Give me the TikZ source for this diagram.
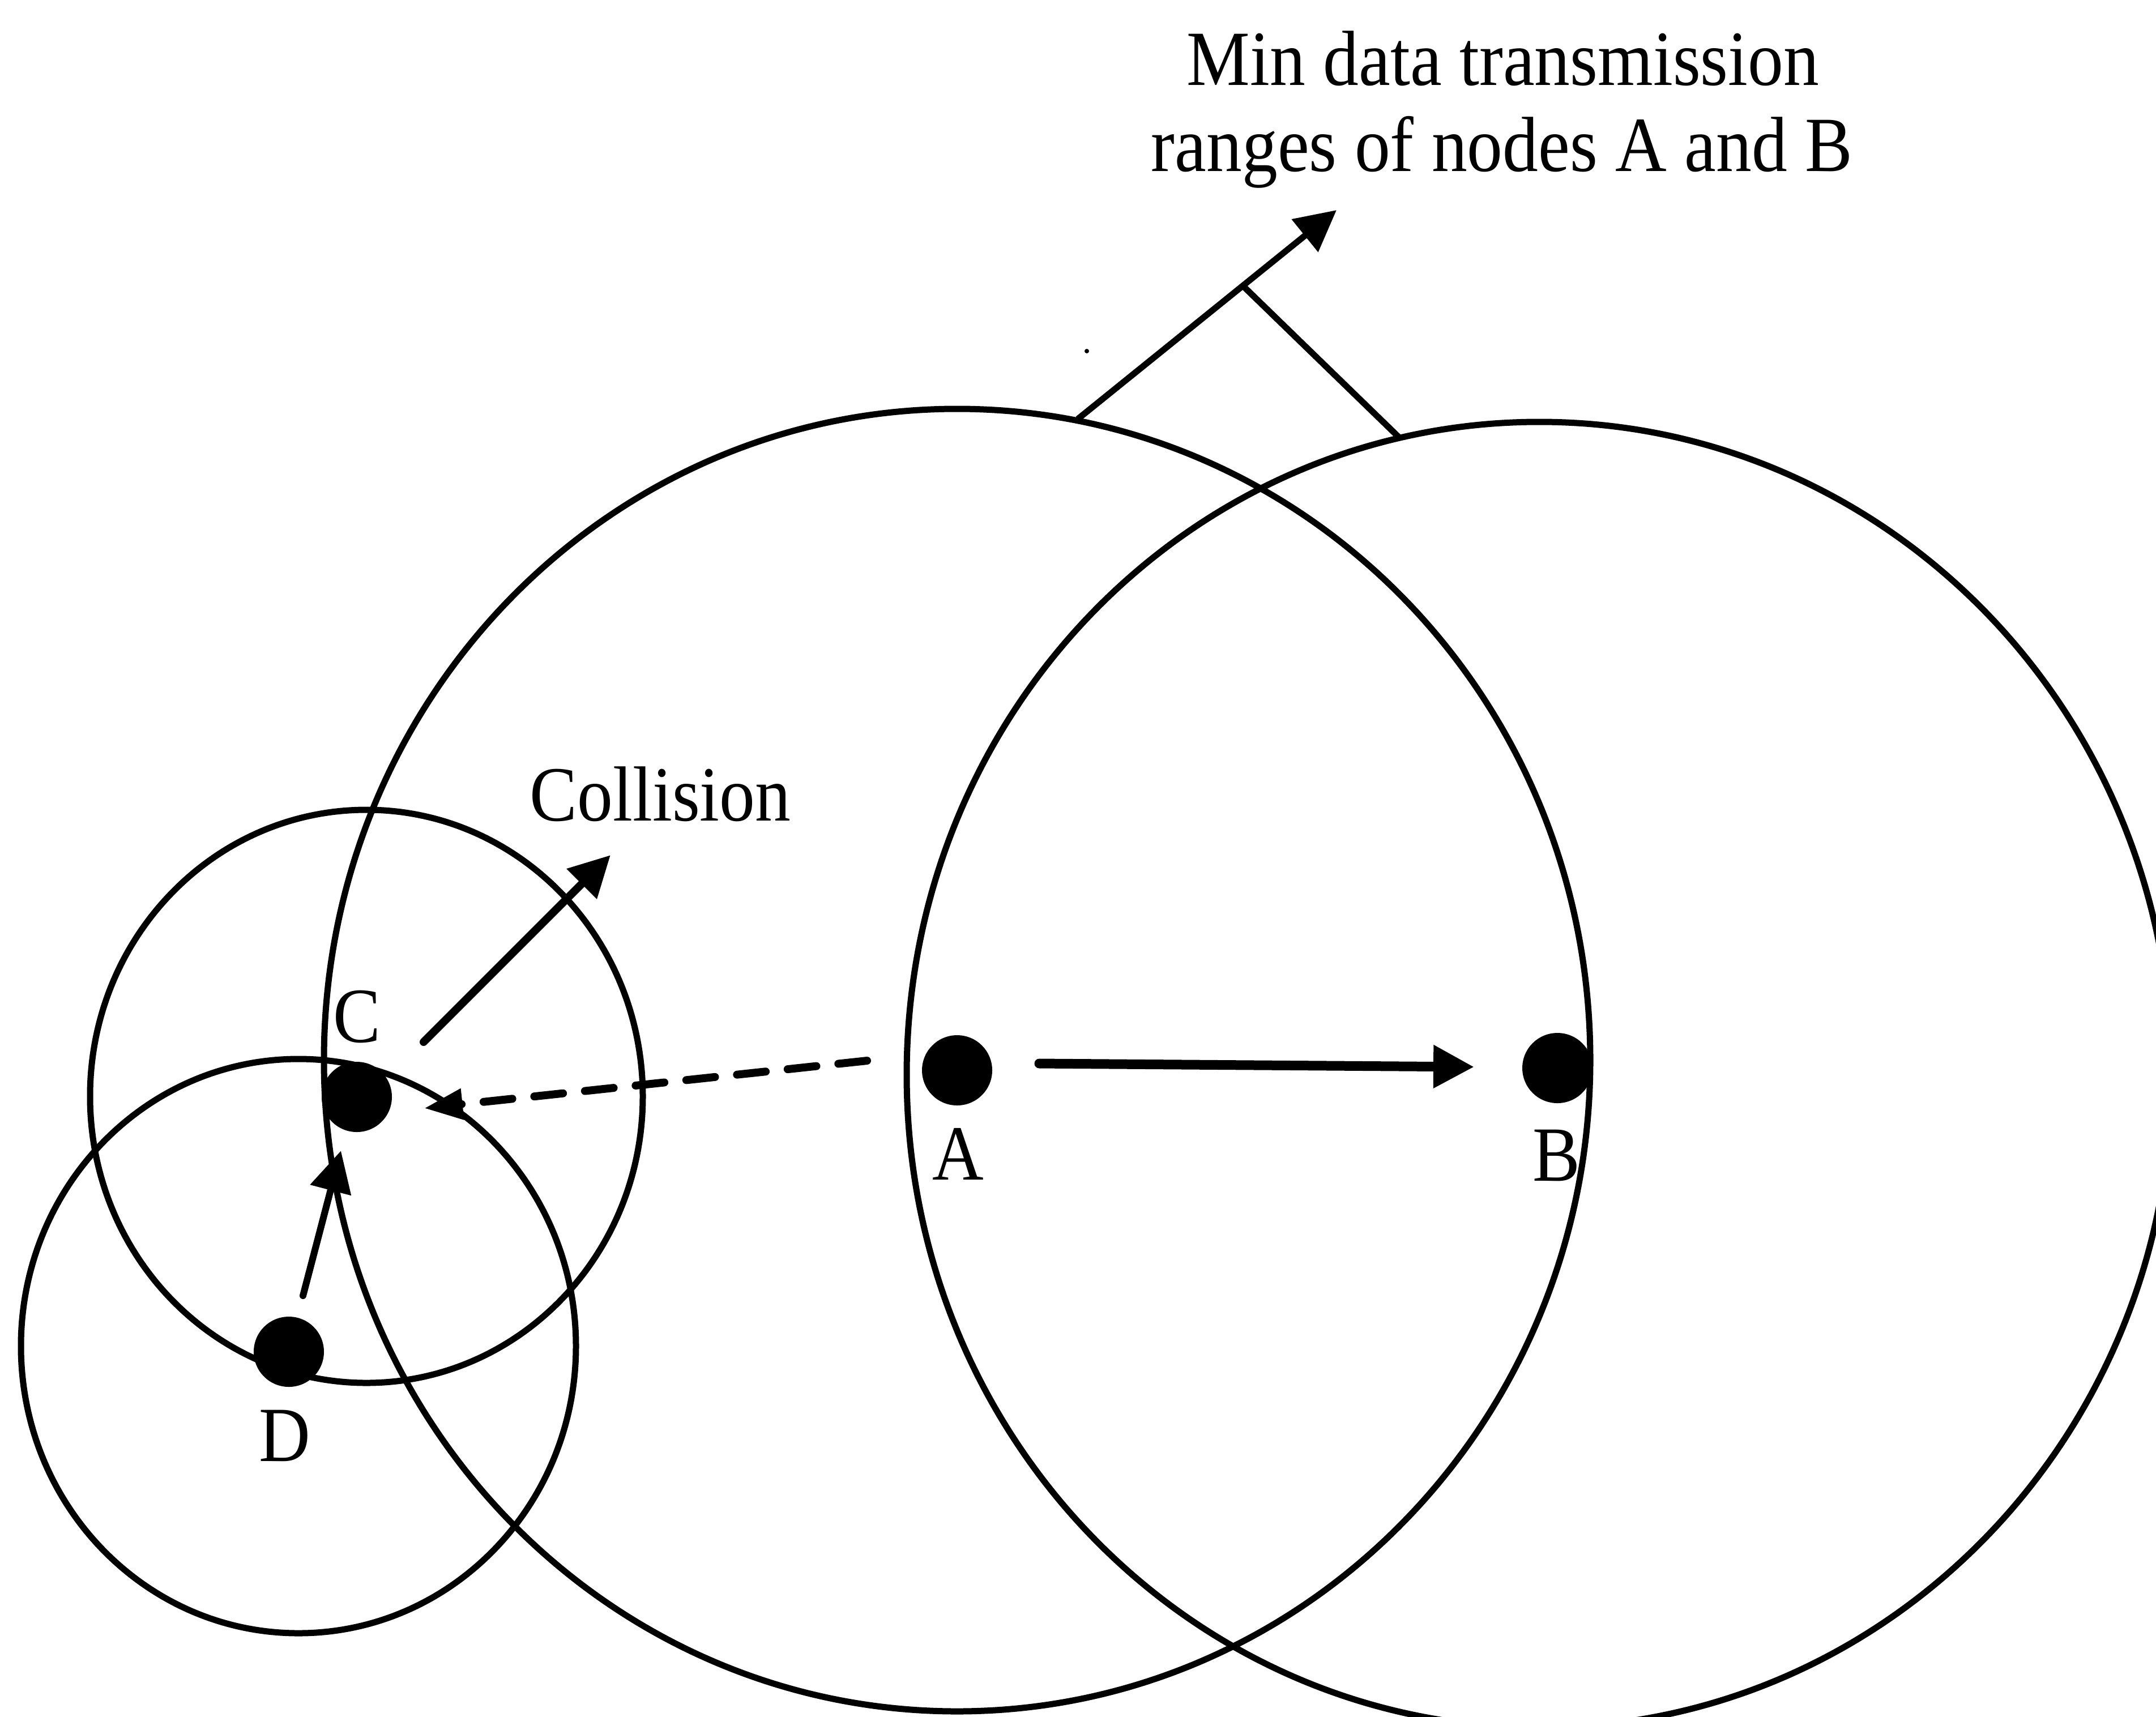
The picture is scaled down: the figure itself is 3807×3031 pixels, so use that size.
\documentclass[tikz,border=0pt]{standalone}
\usepackage{fontspec}
\setmainfont{Liberation Serif}
\usepackage{graphicx}
\usetikzlibrary{arrows.meta}
\newcommand{\condtxt}[1]{\scalebox{0.91}[1]{#1}}
\begin{document}
\begin{tikzpicture}[x=0.25pt,y=-0.25pt,
  ring/.style={line width=2.75pt},
  dot/.style={circle,fill=black,inner sep=0pt,minimum size=31pt},
  lbl/.style={anchor=base,inner sep=0pt,font=\fontsize{34.5}{40}\selectfont},
  bigtip/.style={-{Triangle[length=18pt,width=18pt]}},
  thinline/.style={line width=2.75pt},
  speck/.style={circle,fill=black,inner sep=0pt,minimum size=2pt}]
\useasboundingbox (0,0) rectangle (3807,3031);
\clip (0,0) rectangle (3807,3031);
\fill[white] (0,0) rectangle (3807,3031);

% transmission ranges
\draw[ring] (1690,1872) ellipse [x radius=1118, y radius=1150];
\draw[ring] (2718,1898) ellipse [x radius=1117, y radius=1153];
\draw[ring] (647,1936) ellipse [x radius=488, y radius=506];
\draw[ring] (527,2377) ellipse [x radius=490, y radius=507];

% stations
\node[dot] (dA) at (1690,1890) {};
\node[dot] (dB) at (2750,1886) {};
\node[dot] (dC) at (630,1937) {};
\node[dot] (dD) at (510,2387) {};

% labels
\node[lbl] (lA) at (1692,2083) {\condtxt{A}};
\node[lbl] (lB) at (2748,2085) {\condtxt{B}};
\node[lbl] (lC) at (630,1840) {\condtxt{C}};
\node[lbl] (lD) at (503,2580) {\condtxt{D}};
\node[lbl] (coll) at (1166,1449) {\condtxt{Collision}};
\node[lbl] (t1) at (2654,150) {\condtxt{Min data transmission}};
\node[lbl] (t2) at (2652,302) {\condtxt{ranges of nodes A and B}};

% stray speck
\node[speck] (sp) at (1919,620) {};

% connector end points
\coordinate (abS) at (1835,1878);
\coordinate (abE) at (2603,1884);
\coordinate (acS) at (1531,1873);
\coordinate (acE) at (749,1957);
\coordinate (dcS) at (535,2288);
\coordinate (dcE) at (602,2032);
\coordinate (clS) at (748,1840);
\coordinate (clE) at (1078,1510);
\coordinate (rgS) at (1903,740);
\coordinate (rgE) at (2360,371);
\coordinate (rgJ) at (2196,506);
\coordinate (rgB) at (2469,771);

% A -> B
\draw[bigtip, line width=4.25pt, line cap=round] (abS) -- (abE);
% A -> C dashed
\draw[-{Triangle[length=17pt,width=13pt]}, line width=3.5pt, line cap=round,
      dash pattern=on 12.75pt off 9.75pt] (acS) -- (acE);
% D -> C
\draw[bigtip, line width=3pt, line cap=round] (dcS) -- (dcE);
% collision pointer
\draw[bigtip, line width=3.5pt, line cap=round] (clS) -- (clE);
% range pointer
\draw[bigtip, thinline] (rgS) -- (rgE);
\draw[thinline] (rgJ) -- (rgB);
\end{tikzpicture}
\end{document}
